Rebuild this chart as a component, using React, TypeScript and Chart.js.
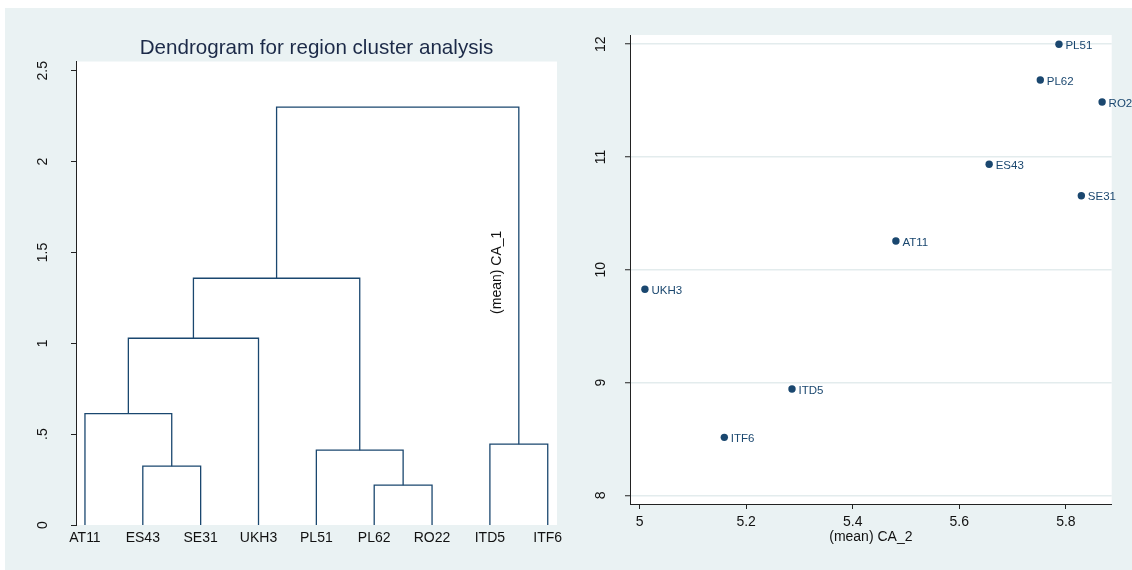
import React, { useEffect, useRef } from 'react';
import { Chart, registerables } from 'chart.js';

Chart.register(...registerables);

// ---------- Dendrogram data ----------
const leaves = ['AT11', 'ES43', 'SE31', 'UKH3', 'PL51', 'PL62', 'RO22', 'ITD5', 'ITF6'];
// nodes 0..8 are leaves; merge k creates node 9+k
const mergeLeft = [1, 5, 4, 7, 0, 13, 14, 15];
const mergeRight = [2, 6, 10, 8, 9, 3, 11, 12];
const mergeHeight = [0.324, 0.219, 0.412, 0.445, 0.613, 1.028, 1.358, 2.3];
const dendroTicks = [0, 0.5, 1, 1.5, 2, 2.5];
const dendroTickLabels = ['0', '.5', '1', '1.5', '2', '2.5'];

// ---------- Scatter data ----------
const regions = ['AT11', 'ES43', 'SE31', 'UKH3', 'PL51', 'PL62', 'RO22', 'ITD5', 'ITF6'];
const ca2 = [5.481, 5.656, 5.829, 5.01, 5.787, 5.752, 5.868, 5.286, 5.159];
const ca1 = [10.255, 10.936, 10.657, 9.827, 12.0, 11.683, 11.488, 8.943, 8.514];
const xTicks = [5, 5.2, 5.4, 5.6, 5.8];
const yTicks = [8, 9, 10, 11, 12];

const NAVY = '#1a476f';
const BG = '#eaf2f3';
const AXIS = '#222';
const TEXT = '#111';
const FONT = "'Liberation Sans', Arial, sans-serif";

Chart.defaults.font.family = FONT;

function buildSegments() {
  const nodeX: number[] = leaves.map((_, i) => i + 1);
  const nodeH: number[] = leaves.map(() => 0);
  return mergeLeft.map((l, k) => {
    const r = mergeRight[k];
    const h = mergeHeight[k];
    const pts = [
      { x: nodeX[l], y: nodeH[l] },
      { x: nodeX[l], y: h },
      { x: nodeX[r], y: h },
      { x: nodeX[r], y: nodeH[r] },
    ];
    nodeX.push((nodeX[l] + nodeX[r]) / 2);
    nodeH.push(h);
    return pts;
  });
}

const whiteArea = {
  id: 'whiteArea',
  beforeDraw(chart: any) {
    const { ctx, chartArea } = chart;
    ctx.save();
    ctx.fillStyle = '#ffffff';
    ctx.fillRect(chartArea.left, chartArea.top, chartArea.right - chartArea.left, chartArea.bottom - chartArea.top);
    ctx.restore();
  },
};

const zeroPad = (s: any) => {
  s.paddingLeft = 0;
  s.paddingRight = 0;
  s.paddingTop = 0;
  s.paddingBottom = 0;
};

export default function App() {
  const leftRef = useRef<HTMLCanvasElement>(null);
  const rightRef = useRef<HTMLCanvasElement>(null);

  useEffect(() => {
    document.body.style.margin = '0';
    document.body.style.background = '#ffffff';

    const segments = buildSegments();

    const caTitle = {
      id: 'caTitle',
      afterDraw(chart: any) {
        const { ctx, scales } = chart;
        ctx.save();
        ctx.translate(scales.x.getPixelForValue(8.119), scales.y.getPixelForValue(1.391));
        ctx.rotate(-Math.PI / 2);
        ctx.font = `14px ${FONT}`;
        ctx.fillStyle = TEXT;
        ctx.textAlign = 'center';
        ctx.textBaseline = 'middle';
        ctx.fillText('(mean) CA_1', 0, 0);
        ctx.restore();
      },
    };

    const left = new Chart(leftRef.current!, {
      type: 'scatter',
      data: {
        datasets: segments.map((pts) => ({
          data: pts,
          showLine: true,
          borderColor: NAVY,
          borderWidth: 1.3,
          pointRadius: 0,
          fill: false,
        })),
      },
      options: {
        animation: false,
        responsive: false,
        events: [],
        layout: { padding: { left: 0, right: 10, top: 0, bottom: 0 } },
        plugins: {
          legend: { display: false },
          tooltip: { enabled: false },
          title: {
            display: true,
            text: 'Dendrogram for region cluster analysis',
            fullSize: false,
            color: '#1c2a48',
            font: { size: 20.6, weight: 'normal' as any },
            padding: { top: 27.6, bottom: 1.2 },
          },
        },
        scales: {
          x: {
            type: 'linear',
            min: 0.845,
            max: 9.16,
            afterBuildTicks: (s: any) => {
              s.ticks = leaves.map((_, i) => ({ value: i + 1 }));
            },
            afterFit: (s: any) => {
              s.height = 45;
              zeroPad(s);
            },
            border: { display: false },
            grid: { display: false, drawTicks: false },
            ticks: {
              autoSkip: false,
              maxRotation: 0,
              minRotation: 0,
              padding: 4.6,
              color: TEXT,
              font: { size: 14 },
              callback: (v: any) => leaves[Number(v) - 1] ?? '',
            },
          },
          y: {
            type: 'linear',
            min: 0,
            max: 2.551,
            afterBuildTicks: (s: any) => {
              s.ticks = dendroTicks.map((v) => ({ value: v }));
            },
            afterFit: (s: any) => {
              s.width = 71;
              zeroPad(s);
            },
            border: { display: true, color: AXIS, width: 1 },
            grid: { display: true, drawOnChartArea: false, drawTicks: true, tickLength: 5, tickColor: AXIS, tickWidth: 1 },
            ticks: {
              minRotation: 90,
              maxRotation: 90,
              crossAlign: 'center',
              padding: 18.3,
              color: TEXT,
              font: { size: 14 },
              callback: (v: any) => dendroTickLabels[dendroTicks.indexOf(Number(v))] ?? '',
            },
          },
        },
      },
      plugins: [whiteArea, caTitle],
    });

    const labels = {
      id: 'pointLabels',
      afterDatasetsDraw(chart: any) {
        const { ctx } = chart;
        const meta = chart.getDatasetMeta(0);
        ctx.save();
        ctx.font = `11.5px ${FONT}`;
        ctx.fillStyle = NAVY;
        ctx.textAlign = 'left';
        ctx.textBaseline = 'middle';
        meta.data.forEach((pt: any, i: number) => {
          ctx.fillText(regions[i], pt.x + 6.5, pt.y + 1.5);
        });
        ctx.restore();
      },
    };

    const right = new Chart(rightRef.current!, {
      type: 'scatter',
      data: {
        datasets: [
          {
            data: ca2.map((x, i) => ({ x, y: ca1[i] })),
            pointRadius: 3.7,
            pointBackgroundColor: NAVY,
            pointBorderWidth: 0,
            borderColor: NAVY,
          },
        ],
      },
      options: {
        animation: false,
        responsive: false,
        events: [],
        layout: { padding: { left: 0, right: 20.3, top: 27, bottom: 0 } },
        plugins: { legend: { display: false }, tooltip: { enabled: false } },
        scales: {
          x: {
            type: 'linear',
            min: 4.982,
            max: 5.886,
            afterBuildTicks: (s: any) => {
              s.ticks = xTicks.map((v) => ({ value: v }));
            },
            afterFit: (s: any) => {
              s.height = 66;
              zeroPad(s);
            },
            border: { display: true, color: AXIS, width: 1 },
            grid: { display: true, drawOnChartArea: false, drawTicks: true, tickLength: 5, tickColor: AXIS },
            ticks: {
              autoSkip: false,
              maxRotation: 0,
              minRotation: 0,
              padding: 4.3,
              color: TEXT,
              font: { size: 14 },
              callback: (v: any) => String(v),
            },
            title: {
              display: true,
              text: '(mean) CA_2',
              color: TEXT,
              font: { size: 14 },
              padding: { top: 0, bottom: 24.9 },
            },
          },
          y: {
            type: 'linear',
            min: 7.923,
            max: 12.082,
            afterBuildTicks: (s: any) => {
              s.ticks = yTicks.map((v) => ({ value: v }));
            },
            afterFit: (s: any) => {
              s.width = 63;
              zeroPad(s);
            },
            border: { display: true, color: AXIS, width: 1 },
            grid: { display: true, drawOnChartArea: true, color: '#e3eced', lineWidth: 1.5, drawTicks: true, tickLength: 5, tickColor: AXIS, tickWidth: 1 },
            ticks: {
              minRotation: 90,
              maxRotation: 90,
              crossAlign: 'center',
              padding: 16.2,
              color: TEXT,
              font: { size: 14 },
              callback: (v: any) => String(v),
            },
          },
        },
      },
      plugins: [whiteArea, labels],
    });

    return () => {
      left.destroy();
      right.destroy();
    };
  }, []);

  return (
    <div style={{ position: 'relative', width: 1132, height: 570, background: '#ffffff', overflow: 'hidden' }}>
      <div style={{ position: 'absolute', left: 5, top: 8, width: 1127, height: 562, background: BG }} />
      <div style={{ position: 'absolute', left: 5, top: 8, width: 562, height: 562 }}>
        <canvas ref={leftRef} width={562} height={562} style={{ display: 'block' }} />
      </div>
      <div style={{ position: 'absolute', left: 567, top: 8, width: 565, height: 562 }}>
        <canvas ref={rightRef} width={565} height={562} style={{ display: 'block' }} />
      </div>
    </div>
  );
}
